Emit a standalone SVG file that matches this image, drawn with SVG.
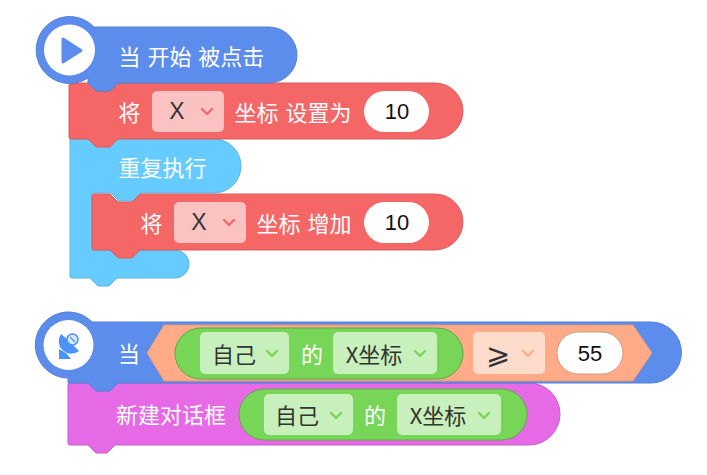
<svg xmlns="http://www.w3.org/2000/svg" width="707" height="475" viewBox="0 0 707 475">
<style>
text{font-family:"Noto Sans CJK SC","Liberation Sans",sans-serif;font-size:22px;dominant-baseline:central;word-spacing:2px}
.w{fill:#fff}
.d{fill:#333;text-anchor:middle}
.l{font-family:"Liberation Sans",sans-serif;font-size:23px}
.n{fill:#111;text-anchor:middle;font-family:"Liberation Sans",sans-serif}
.blue{fill:#5c8dec;stroke:#5480d4}
.red{fill:#f56667;stroke:#d95c5e}
.sky{fill:#66ccff;stroke:#5cb4e0}
.pur{fill:#e66ae6;stroke:#c65ec6}
.grn{fill:#77d557;stroke:#5fa848}
.org{fill:#ffab88;stroke:#e09878}
.ddr{fill:#fbc2c2}.ddg{fill:#c8f0bc}.ddo{fill:#fddccc}
.inp{fill:#fff}
.chev{fill:none;stroke-width:2.400;stroke-linecap:round;stroke-linejoin:round}
</style>
<g id="loop-repeat">
<path class="sky" d="M72 139H214A27 27 0 0 1 214 193H141L133 201H119L111 193H92V250H175A14 14 0 0 1 175 278H117L109 286H98L90 278H72Q70 278 70 276V139Z"/>
<text class="w" x="118.500" y="165.500">重复执行</text>
</g>
<g id="set-x">
<path class="red" d="M71 83H88L96 91H110L118 83H435A28 28 0 0 1 435 139H118L110 147H96L88 139H71Q69 139 69 137V85Q69 83 71 83Z"/>
<text class="w" x="118.500" y="110.500">将</text>
<rect class="ddr" x="152" y="91" width="72" height="41" rx="5"/>
<text class="d l" x="177" y="111">X</text>
<path class="chev" stroke="#f56768" d="M202 109L207 114L212 109"/>
<text class="w" x="234.500" y="110.500">坐标 设置为</text>
<rect class="inp" x="364" y="91" width="65" height="41" rx="20.500"/>
<text class="n" x="397" y="111.500">10</text>
</g>
<g id="inc-x">
<path class="red" d="M94 194H110L118 202H132L140 194H435A28 28 0 0 1 435 250H140L132 258H118L110 250H94Q92 250 92 248V196Q92 194 94 194Z"/>
<text class="w" x="140.500" y="221.500">将</text>
<rect class="ddr" x="174" y="202" width="72" height="41" rx="5"/>
<text class="d l" x="199" y="222">X</text>
<path class="chev" stroke="#f56768" d="M224 220L229 225L234 220"/>
<text class="w" x="256.500" y="221.500">坐标 增加</text>
<rect class="inp" x="364" y="202" width="65" height="41" rx="20.500"/>
<text class="n" x="397" y="222.500">10</text>
</g>
<g id="hat-start">
<path class="blue" d="M94 27H269A28 28 0 0 1 269 83H118L110 91H96L88 83V78A33.500 33.500 0 1 1 94 27Z"/>
<circle cx="69.500" cy="50" r="25.500" fill="#fff"/>
<path fill="#5c8dec" stroke="#5c8dec" stroke-width="3" stroke-linejoin="round" d="M63 39L81 50.500L63 62Z"/>
<text class="w" x="118.500" y="54.500">当 开始 被点击</text>
</g>
<g id="say-dialog">
<path class="pur" d="M70 383H88L96 391H110L118 383H529A30.500 30.500 0 0 1 529 445H115L107 453H96L88 445H70Q68 445 68 443V385Q68 383 70 383Z"/>
<text class="w" x="116" y="412.500">新建对话框</text>
<rect class="grn" x="239" y="389" width="288" height="51" rx="25.500"/>
<rect class="ddg" x="264" y="394" width="89" height="41" rx="5"/>
<text class="d" x="297" y="413.500">自己</text>
<path class="chev" stroke="#77d557" d="M331 413L336 418L341 413"/>
<text class="w" x="364" y="413.500">的</text>
<rect class="ddg" x="397" y="394" width="104" height="41" rx="5"/>
<text class="d" x="438" y="413.500">X坐标</text>
<path class="chev" stroke="#77d557" d="M479 413L484 418L489 413"/>
</g>
<g id="hat-when">
<path class="blue" d="M92 322H651A30.500 30.500 0 0 1 651 383H118L110 391H96L88 383H68V378A33 33 0 1 1 92 322Z"/>
<circle cx="68.500" cy="345" r="25" fill="#fff"/>
<path fill="#4c93f5" d="M59 349V359H71L66 353Z"/>
<path fill="#4c93f5" d="M61 334A12.500 12.500 0 0 0 79 351L73 345L79 339L72 333L67 339Z"/>
<circle cx="72.500" cy="339.500" r="5.500" fill="#d9e9fd" stroke="#4c93f5" stroke-width="1.500"/>
<path fill="none" stroke="#4c93f5" stroke-width="1.300" d="M70 337L75 342"/>
<text class="w" x="118" y="351.500">当</text>
</g>
<g id="cmp">
<path class="org" d="M147 353L164 325H633L652 353L633 381H164Z"/>
<rect class="grn" x="175" y="328" width="288" height="51" rx="25.500"/>
<rect class="ddg" x="200" y="332" width="89" height="42" rx="5"/>
<text class="d" x="234" y="352.500">自己</text>
<path class="chev" stroke="#77d557" d="M267 351L272 356L277 351"/>
<text class="w" x="301" y="352.500">的</text>
<rect class="ddg" x="333" y="332" width="104" height="42" rx="5"/>
<text class="d" x="374" y="352.500">X坐标</text>
<path class="chev" stroke="#77d557" d="M415 351L420 356L425 351"/>
<rect class="ddo" x="473" y="332" width="72" height="42" rx="5"/>
<text class="d" x="498" y="351" style="font-size:29px">⩾</text>
<path class="chev" stroke="#ffab88" d="M523 351L528 356L533 351"/>
<rect class="inp" stroke="#cf9a84" x="557" y="332" width="66" height="42" rx="21"/>
<text class="n" x="590" y="353.500">55</text>
</g>
</svg>
